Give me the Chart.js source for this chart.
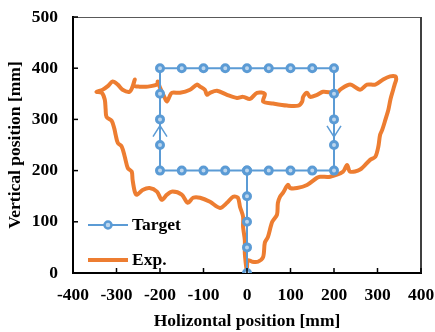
<!DOCTYPE html>
<html>
<head>
<meta charset="utf-8">
<script src="https://cdn.jsdelivr.net/npm/chart.js@4.4.0/dist/chart.umd.min.js"></script>
<style>
html,body{margin:0;padding:0;background:#fff;}
#wrap{width:435px;height:332px;}
</style>
</head>
<body>
<div id="wrap"><canvas id="chart" width="435" height="332"></canvas></div>
<script>
//target path [mm]
var targetX = [0,0,0,0,0, -50,-100,-150,-200, -200,-200,-200,-200,
  -150,-100,-50,0,50,100,150,200, 200,200,200,200, 150,100,50,0];
var targetY = [0,50,100,150,200, 200,200,200,200, 250,300,350,400,
  400,400,400,400,400,400,400,400, 350,300,250,200, 200,200,200,200];

var expX = [0,-3,-5,-5,-9,-9,-16,-21,-32,-46,-62,-85,-108,-124,-136,-150,-171,-184,-196,-207,-224,-240,-253,-258,-263,-265,-274,-281,-288,-297,-302,-305,-311,-323,-325,-327,-334,-346,
  -332,-320,-309,-297,-286,-270,-263,-258,-260,-247,-228,-207,-205,-200,-189,-184,-178,-173,-154,-131,-115,-108,-97,-92,-85,-69,-46,-23,-9,7,23,41,37,60,92,118,127,129,138,145,161,175,196,207,214,237,260,276,295,313,329,341,343,
  340,336,330,325,318,311,306,302,295,283,260,237,230,221,191,168,161,138,115,99,94,83,76,71,69,58,48,41,37,25,12,2,0];
var expY = [0,20,39,64,90,110,129,147,149,137,127,139,147,147,137,153,159,153,143,159,166,162,153,159,182,198,205,227,247,254,270,282,297,305,320,339,352,354,
  358,365,374,368,358,354,364,378,366,364,364,368,374,362,342,335,345,352,352,358,368,364,358,348,352,356,348,342,344,340,352,350,335,331,327,327,335,344,352,344,348,354,352,352,358,368,358,368,368,378,384,384,378,
  370,358,340,319,299,280,270,247,227,221,202,198,211,198,188,188,186,172,166,166,172,157,149,137,114,100,70,59,31,22,22,25,10];

//direction arrows on the target
var arrowX = [-200, 200];
var arrowY = [288, 266];
var arrowDir = [1, -1];

var xTicks = [-400,-300,-200,-100,0,100,200,300,400];
var yTicks = [0,100,200,300,400,500];
var legendNames = ['Target', 'Exp.'];

var blue = '#5B9BD5', orange = '#ED7D31', markerFill = '#bcd6ee';
var font = {family: '"Liberation Serif", "Times New Roman", serif', size: 17.5, weight: 'bold'};
var fontStr = 'bold 17.5px "Liberation Serif", "Times New Roman", serif';

function pts(xs, ys){
  return xs.map(function(x, i){ return {x: x, y: ys[i]}; });
}

var framePlugin = {
  id: 'frame',
  afterDatasetsDraw: function(chart){
    var ctx = chart.ctx, a = chart.chartArea;
    var sx = chart.scales.x, sy = chart.scales.y;
    ctx.save();
    //arrows
    ctx.strokeStyle = blue;
    ctx.lineWidth = 1.5;
    arrowX.forEach(function(v, i){
      var px = sx.getPixelForValue(v), py = sy.getPixelForValue(arrowY[i]);
      var d = arrowDir[i];
      ctx.beginPath();
      ctx.moveTo(px - 7, py + d*11);
      ctx.lineTo(px, py);
      ctx.lineTo(px + 7, py + d*11);
      ctx.stroke();
    });
    //top and right border
    ctx.strokeStyle = '#595959';
    ctx.lineWidth = 1;
    ctx.beginPath();
    ctx.moveTo(a.left, a.top + 0.5);
    ctx.lineTo(a.right, a.top + 0.5);
    ctx.stroke();
    ctx.strokeStyle = '#404040';
    ctx.lineWidth = 2;
    ctx.beginPath();
    ctx.moveTo(a.right, a.top);
    ctx.lineTo(a.right, a.bottom);
    ctx.stroke();
    //inside ticks
    ctx.strokeStyle = '#000';
    ctx.lineWidth = 1.5;
    xTicks.forEach(function(v){
      var px = sx.getPixelForValue(v);
      ctx.beginPath();
      ctx.moveTo(px, a.bottom);
      ctx.lineTo(px, a.bottom - 5);
      ctx.stroke();
    });
    yTicks.forEach(function(v){
      var py = sy.getPixelForValue(v);
      ctx.beginPath();
      ctx.moveTo(a.left, py);
      ctx.lineTo(a.left + 5, py);
      ctx.stroke();
    });
    //legend
    var lx = a.left + 15, ly = [225, 260];
    ctx.font = fontStr;
    ctx.textBaseline = 'middle';
    ctx.strokeStyle = blue;
    ctx.lineWidth = 2;
    ctx.beginPath();
    ctx.moveTo(lx, ly[0]);
    ctx.lineTo(lx + 40, ly[0]);
    ctx.stroke();
    ctx.beginPath();
    ctx.arc(lx + 20, ly[0], 3.5, 0, Math.PI*2);
    ctx.fillStyle = markerFill;
    ctx.fill();
    ctx.lineWidth = 2.5;
    ctx.stroke();
    ctx.strokeStyle = orange;
    ctx.lineWidth = 4;
    ctx.beginPath();
    ctx.moveTo(lx, ly[1]);
    ctx.lineTo(lx + 40, ly[1]);
    ctx.stroke();
    ctx.fillStyle = '#000';
    legendNames.forEach(function(n, i){
      ctx.fillText(n, lx + 44, ly[i]);
    });
    ctx.restore();
  }
};

var chart = new Chart(document.getElementById('chart'), {
  type: 'scatter',
  data: {
    datasets: [{
      label: legendNames[0],
      data: pts(targetX, targetY),
      showLine: true,
      borderColor: blue,
      borderWidth: 2,
      pointRadius: 3.5,
      pointBorderWidth: 3,
      pointBackgroundColor: markerFill,
      pointBorderColor: blue
    }, {
      label: legendNames[1],
      data: pts(expX, expY),
      showLine: true,
      borderColor: orange,
      borderWidth: 4,
      pointRadius: 0,
      tension: 0.3
    }]
  },
  options: {
    responsive: false,
    animation: false,
    devicePixelRatio: 1,
    layout: {padding: {top: 17, right: 14, left: 0, bottom: 0}},
    plugins: {legend: {display: false}, tooltip: {enabled: false}},
    scales: {
      x: {
        min: -400, max: 400,
        afterFit: function(s){ s.height = 59; s.paddingLeft = 0; s.paddingRight = 0; },
        afterBuildTicks: function(s){ s.ticks = xTicks.map(function(v){ return {value: v}; }); },
        grid: {display: false, drawTicks: false},
        border: {color: '#000', width: 2},
        ticks: {color: '#000', font: font, padding: 12, maxRotation: 0},
        title: {display: true, text: 'Holizontal position [mm]', color: '#000', font: font, padding: 0}
      },
      y: {
        min: 0, max: 500,
        afterFit: function(s){ s.width = 73; s.paddingTop = 0; s.paddingBottom = 0; },
        afterBuildTicks: function(s){ s.ticks = yTicks.map(function(v){ return {value: v}; }); },
        grid: {display: false, drawTicks: false},
        border: {color: '#000', width: 2},
        ticks: {color: '#000', font: font, padding: 15},
        title: {display: true, text: 'Vertical position [mm]', color: '#000', font: font, padding: {top: 5}}
      }
    }
  },
  plugins: [framePlugin]
});
</script>
</body>
</html>
